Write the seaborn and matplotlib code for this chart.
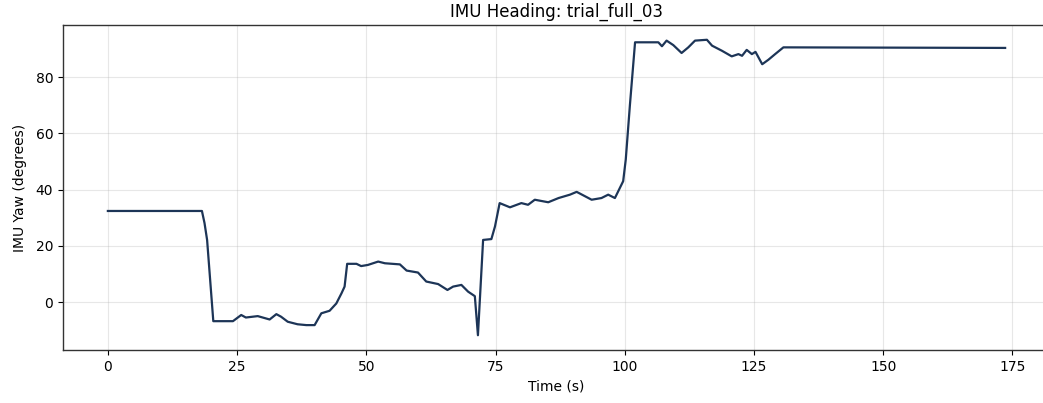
import numpy as np
import pandas as pd
import matplotlib
matplotlib.use("Agg")
import matplotlib.pyplot as plt
import seaborn as sns

# Heading trace (time in s, yaw in degrees)
time_s = [0.0, 18.2, 18.7, 19.2, 20.4, 24.2, 25.8, 26.7, 29.0, 31.3, 32.6, 33.5,
          34.8, 36.7, 38.4, 40.0, 41.3, 42.9, 44.2, 45.2, 45.8, 46.3, 48.1, 49.0,
          50.3, 52.3, 53.6, 56.5, 57.8, 60.0, 61.6, 63.9, 65.7, 66.8, 68.4, 69.7,
          71.0, 71.6, 72.6, 74.2, 74.9, 75.8, 77.8, 80.0, 81.3, 82.6, 85.2, 87.2,
          89.4, 90.7, 93.6, 95.5, 96.8, 98.1, 99.7, 100.2, 101.0, 102.0, 106.5,
          107.2, 108.1, 109.4, 111.0, 112.3, 113.6, 115.9, 116.9, 118.8, 120.7,
          122.0, 122.7, 123.6, 124.6, 125.3, 126.6, 127.8, 129.1, 130.7, 173.6]
yaw_deg = [32.4, 32.4, 28.1, 22.1, -6.8, -6.8, -4.6, -5.5, -5.0, -6.2, -4.3, -5.2,
           -7.0, -7.9, -8.2, -8.2, -4.0, -3.1, -0.5, 3.1, 5.5, 13.6, 13.6, 12.8,
           13.2, 14.4, 13.8, 13.4, 11.2, 10.5, 7.3, 6.4, 4.3, 5.5, 6.1, 3.7,
           2.1, -11.8, 22.1, 22.4, 26.9, 35.2, 33.7, 35.2, 34.6, 36.4, 35.5, 37.0,
           38.2, 39.2, 36.4, 37.0, 38.2, 37.0, 43.0, 50.7, 70.0, 92.4, 92.4,
           91.0, 93.0, 91.4, 88.6, 90.6, 93.0, 93.3, 91.2, 89.4, 87.4,
           88.2, 87.6, 89.7, 88.2, 89.0, 84.6, 86.2, 88.2, 90.6, 90.4]

df = pd.DataFrame({"Time (s)": time_s, "IMU Yaw (degrees)": yaw_deg})

fig = plt.figure(figsize=(10.43, 4.03), dpi=100)
ax = fig.add_axes([63 / 1043, 53 / 403, 987 / 1043, 325 / 403])

sns.lineplot(data=df, x="Time (s)", y="IMU Yaw (degrees)", ax=ax,
             color="#1d3557", linewidth=1.6, estimator=None, sort=False)

ax.grid(True, alpha=0.3)
for side in ax.spines.values():
    side.set_color("#333333")
    side.set_linewidth(1.0)
ax.set_title("IMU Heading: trial_full_03", fontsize=12)
ax.set_xlabel("Time (s)")
ax.set_ylabel("IMU Yaw (degrees)", labelpad=6)

fig.savefig("out.png", dpi=100)
